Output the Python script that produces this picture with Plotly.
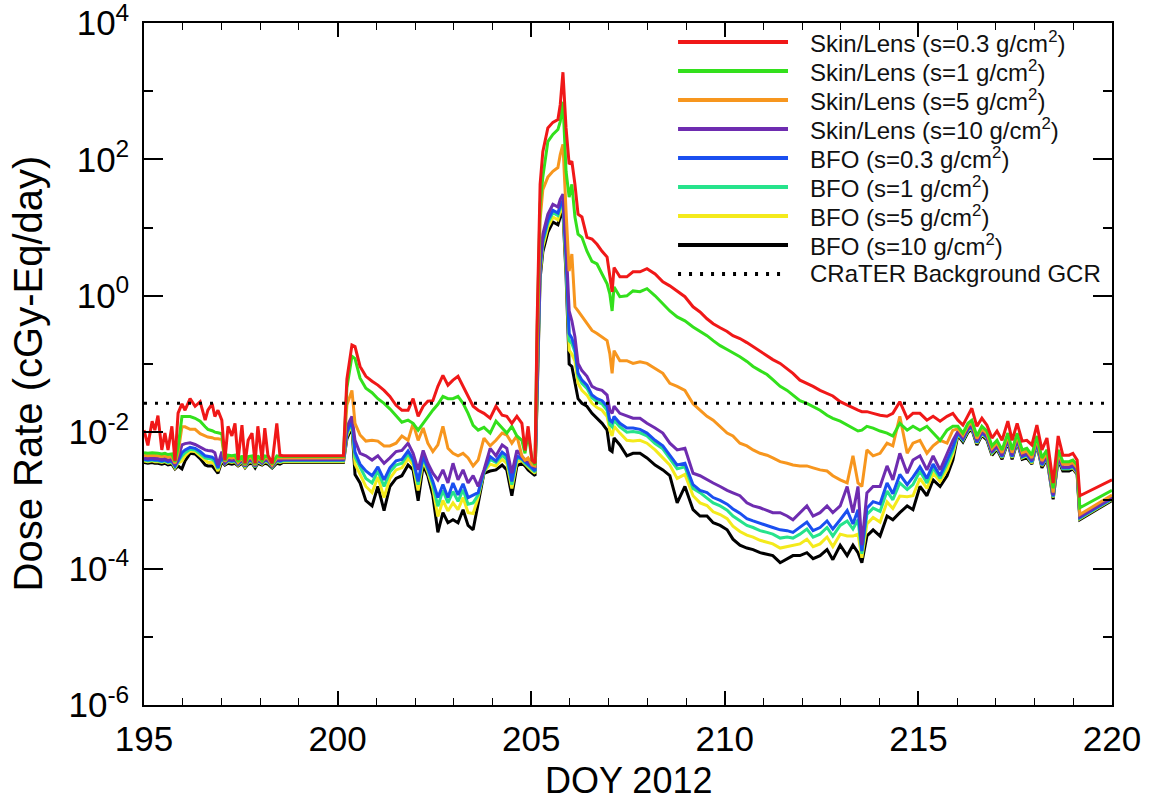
import plotly.graph_objects as go

# ---------------- data ----------------
doy = [
    195.00, 195.10, 195.21, 195.28, 195.36, 195.46, 195.54, 195.62, 195.72, 195.80,
    195.88, 195.98, 196.06, 196.19, 196.32, 196.45, 196.58, 196.65, 196.76, 196.83,
    196.91, 197.01, 197.09, 197.17, 197.27, 197.35, 197.43, 197.53, 197.61, 197.69,
    197.79, 197.87, 197.94, 198.05, 198.12, 198.20, 198.31, 198.43, 198.51, 198.59, 200.15,
    200.24, 200.37, 200.45, 200.58, 200.73, 200.89, 201.04, 201.20, 201.35, 201.51,
    201.66, 201.82, 201.95, 202.08, 202.21, 202.33, 202.46, 202.59, 202.72, 202.85,
    202.98, 203.11, 203.24, 203.37, 203.50, 203.63, 203.78, 203.94, 204.09, 204.25,
    204.37, 204.50, 204.63, 204.76, 204.84, 204.92, 205.02, 205.10,
    205.15, 205.23, 205.30, 205.43, 205.56, 205.69, 205.75, 205.82, 205.90, 205.98,
    206.05, 206.13, 206.21, 206.31, 206.44, 206.57, 206.70, 206.83, 206.96, 207.03,
    207.09, 207.14, 207.29, 207.47, 207.63, 207.81, 207.99, 208.20, 208.40, 208.58,
    208.77, 208.97, 209.18, 209.36,
    209.54, 209.70, 209.88, 210.06, 210.21, 210.39, 210.57, 210.73, 210.91, 211.09,
    211.24, 211.43, 211.61, 211.76, 211.94, 212.12, 212.28, 212.46, 212.64, 212.79,
    212.98, 213.16, 213.31, 213.44, 213.54, 213.67, 213.83, 214.01, 214.19, 214.34,
    214.52, 214.71, 214.86, 215.04, 215.22, 215.38, 215.56, 215.74, 215.89,
    216.02, 216.15, 216.28, 216.38, 216.51, 216.64, 216.77, 216.90, 217.03, 217.16,
    217.31, 217.42, 217.55, 217.68, 217.80, 217.93, 218.06, 218.19, 218.32, 218.48,
    218.61, 218.73, 218.89, 218.99, 219.10, 219.17, 220.00,
]

skin_03 = [
    .0107, .0064, .0145, .0107, .0175, .0055, .0097, .0055, .0122, .0038,
    .019, .026, .021, .031, .024, .028, .015, .021, .026, .017,
    .021, .015, .0039, .0122, .0088, .0135, .0039, .0127, .0035, .0076,
    .0097, .0035, .0122, .0039, .0115, .0046, .0035, .0135, .0046, .0045, .0045,
    .060, .19, .18, .092, .066, .056, .049, .041, .0335, .0248,
    .021, .021, .031, .0171, .024, .0284, .029, .047, .068, .049,
    .058, .066, .047, .0335, .024, .021, .0189, .016, .024, .0177,
    .0171, .0135, .0171, .0135, .0054, .0122, .0039, .0035,
    .35, 43, 130, 290, 350, 385, 635, 1900, 290, 85,
    94, 43, 15.7, 14.3, 7.2, 6.8, 5.7, 4.5, 3.7, 1.96,
    1.14, 2.6, 1.9, 1.9, 2.25, 2.25, 2.5, 2.09, 1.6, 1.4,
    1.18, .97, .69, .58,
    .46, .39, .34, .30, .26, .236, .206, .18, .157, .133,
    .116, .102, .086, .073, .058, .052, .047, .041, .037, .034,
    .028, .025, .0224, .021, .020, .020, .0189, .0177, .0171, .0189,
    .028, .016, .0189, .0189, .015, .0171, .0145, .0171, .0189,
    .015, .0127, .0171, .0224, .0122, .016, .0127, .0082, .0104, .0076,
    .0145, .0076, .0135, .0074, .0076, .0065, .0127, .0055, .0082, .0018,
    .0088, .0046, .0046, .0049, .0039, .00117, .0020,
]

skin_1 = [
    .0050, .0049, .0050, .0049, .0049, .0048, .0049, .0047, .0048, .0037,
    .0060, .017, .017, .017, .016, .0145, .012, .011, .0105, .0100,
    .0098, .0095, .0038, .0046, .0045, .0046, .0037, .0045, .0034, .0044,
    .0045, .0034, .0045, .0038, .0045, .0044, .0034, .0045, .0044, .0044, .0044,
    .045, .13, .12, .062, .044, .038, .031, .0265, .022, .0171,
    .014, .015, .0135, .0107, .0135, .0171, .021, .0256, .0335, .031,
    .031, .0335, .0265, .0189, .0126, .0107, .0118, .0097, .0145, .0115,
    .0097, .0122, .0088, .0076, .0049, .0097, .0039, .0033,
    .25, 22, 55, 183, 232, 274, 359, 700, 67, 28,
    43, 14.3, 8, 7.2, 4.5, 3.2, 2.93, 2.09, 1.5, 1.07,
    .6, 1.35, .97, 1.0, 1.18, 1.15, 1.27, 1.0, .76, .6,
    .49, .43, .35, .30,
    .26, .22, .186, .163, .147, .128, .109, .092, .080, .070,
    .059, .047, .041, .035, .029, .0265, .024, .021, .0177, .016,
    .0145, .0127, .0115, .0104, .0107, .0122, .0115, .0104, .0097, .0088,
    .0135, .0107, .0122, .0107, .0122, .0097, .0076, .0107, .0122,
    .0122, .0097, .0135, .015, .0088, .0122, .0104, .0063, .0076, .0055,
    .0097, .0055, .0097, .0055, .0058, .0046, .0088, .0042, .0055, .0015,
    .0055, .0037, .0037, .0039, .0033, .00078, .0014,
]

skin_5 = [
    .0046, .0045, .0046, .0045, .0045, .0044, .0045, .0043, .0044, .0035,
    .0050, .012, .012, .011, .011, .0095, .0088, .0085, .0083, .0080,
    .0080, .0078, .0037, .0043, .0042, .0043, .0036, .0042, .0033, .0042,
    .0042, .0033, .0042, .0037, .0042, .0042, .0033, .0042, .0042, .0042, .0042,
    .025, .041, .0135, .0091, .0074, .0076, .0074, .0063, .0063, .0069,
    .0088, .0076, .0135, .0076, .0115, .0069, .0052, .0065, .0122, .0058,
    .0049, .0045, .0049, .0042, .0032, .0039, .0082, .0063, .0076, .0097,
    .0091, .0069, .0088, .0045, .0039, .0042, .0033, .0032,
    .12, 13, 36, 55, 67, 76, 118, 166, 17.5, 2.3,
    4.1, .69, .6, .5, .39, .31, .28, .25, .22, .142,
    .073, .157, .112, .112, .102, .108, .102, .086, .073, .052,
    .047, .041, .026, .021,
    .0171, .015, .0122, .0097, .0088, .0069, .0063, .0055, .0049, .0046,
    .0042, .0037, .0035, .0033, .0032, .0032, .0030, .0028, .0027, .0023,
    .0020, .0018, .0045, .0018, .0016, .0055, .0045, .0049, .0069, .0063,
    .0171, .0049, .0069, .0076, .0049, .0063, .0076, .0069, .0107,
    .0112, .0090, .0125, .0138, .0081, .0112, .0096, .0058, .0070, .0050,
    .0089, .0050, .0089, .0050, .0053, .0042, .0081, .0038, .0050, .0013,
    .0050, .0034, .0034, .0036, .0030, .00062, .0012,
]

skin_10 = [
    .0042, .0041, .0042, .0041, .0041, .0040, .0041, .0039, .0040, .0033,
    .0042, .0065, .0068, .0070, .0066, .0060, .0055, .0054, .0053, .0050,
    .0033, .0052, .0036, .0040, .0039, .0040, .0035, .0040, .0032, .0039,
    .0040, .0032, .0040, .0036, .0040, .0039, .0032, .0040, .0039, .0040, .0040,
    .012, .017, .0076, .0049, .0045, .0039, .0045, .0035, .0042, .0052,
    .0054, .0069, .0049, .0028, .0054, .0035, .0025, .0020, .0028, .0018,
    .0035, .0020, .0028, .0018, .0023, .0016, .0028, .0058, .0045, .0065,
    .0058, .0025, .0054, .0045, .0039, .0037, .0033, .0030,
    .05, 3.2, 8, 15.7, 22, 20, 26, 31, 5.7, .6,
    .43, .25, .102, .08, .066, .047, .043, .041, .035, .021,
    .0189, .024, .0189, .0171, .016, .016, .0135, .0115, .0097, .0069,
    .0055, .0058, .0025, .0023,
    .0020, .0018, .0016, .0014, .00129, .00117, .00092, .00083, .00078, .00071,
    .00066, .00066, .00059, .00052, .00066, .00083, .00059, .00066, .00083, .00066,
    .00083, .0016, .00066, .0016, .00022, .00129, .0016, .0016, .0032, .0020,
    .0049, .0025, .0039, .0045, .0028, .0045, .0028, .0049, .0076,
    .0103, .0083, .0115, .0127, .0075, .0103, .0088, .0053, .0064, .0046,
    .0082, .0046, .0082, .0046, .0049, .0039, .0075, .0035, .0046, .0012,
    .0046, .0031, .0031, .0033, .0028, .00058, .0011,
]

bfo_03 = [
    .0040, .0039, .0040, .0039, .0039, .0038, .0039, .0037, .0038, .0032,
    .0038, .0050, .0055, .0060, .0058, .0052, .0045, .0044, .0043, .0040,
    .0030, .0045, .0035, .0039, .0038, .0039, .0034, .0039, .0032, .0038,
    .0039, .0032, .0039, .0035, .0039, .0038, .0032, .0039, .0038, .0039, .0039,
    .010, .015, .0051, .0034, .0027, .0023, .0031, .0020, .0030, .0038,
    .0040, .0053, .0040, .0019, .0045, .0030, .0019, .0011, .0017, .0011,
    .0018, .0012, .00175, .0011, .0012, .0013, .0027, .0044, .0038, .0051,
    .0045, .0019, .0045, .0041, .0037, .0034, .0030, .0027,
    .042, 2.6, 6.6, 12.9, 18, 16.4, 21, 25, 3.8, .28,
    .24, .17, .073, .058, .049, .035, .031, .029, .024, .015,
    .014, .017, .0135, .0115, .0115, .011, .0097, .0076, .0063, .0046,
    .0033, .0035, .0017, .0014,
    .0013, .0011, .0010, .00088, .00075, .00065, .00054, .0005, .00046, .00042,
    .0004, .00037, .00036, .00034, .0004, .00048, .00036, .0004, .0005, .00038,
    .00052, .00071, .00045, .00073, .00018, .00077, .00096, .00089, .0018, .00125,
    .0024, .0017, .0022, .0031, .0021, .0034, .0023, .0038, .0060,
    .0099, .0079, .0110, .0121, .0071, .0099, .0084, .0051, .0062, .0044,
    .0078, .0044, .0078, .0044, .0047, .0037, .0071, .0033, .0044, .00115,
    .0044, .0030, .0030, .0032, .0026, .00056, .00107,
]

bfo_1 = [
    .0039, .0038, .0039, .0038, .0038, .0037, .0038, .0036, .0037, .0031,
    .0037, .0045, .0050, .0056, .0055, .0048, .0042, .0041, .0040, .0037,
    .0029, .0043, .0035, .0038, .0037, .0038, .0034, .0038, .0031, .0037,
    .0038, .0031, .0038, .0035, .0038, .0037, .0031, .0038, .0037, .0038, .0038,
    .0095, .014, .0043, .0030, .0021, .0018, .0027, .0016, .0026, .0033,
    .0035, .0048, .0037, .0017, .0042, .0028, .0017, .00082, .0014, .00092,
    .00135, .00097, .00143, .00088, .00092, .0012, .0026, .0040, .0036, .0046,
    .0040, .0017, .0042, .0040, .0035, .0032, .0029, .0026,
    .038, 2.4, 6.0, 11.8, 16.5, 15, 19.5, 23, 3.2, .22,
    .20, .15, .066, .052, .044, .032, .028, .026, .021, .013,
    .012, .015, .012, .010, .0102, .0098, .0088, .0068, .0057, .0041,
    .0029, .0031, .0015, .0013,
    .0011, .00092, .00083, .00072, .00059, .00051, .00043, .0004, .00036, .00034,
    .00032, .00028, .00029, .00028, .00032, .00038, .00029, .00032, .0004, .0003,
    .00043, .0005, .00038, .00052, .000164, .00062, .00077, .00069, .00137, .00102,
    .0018, .00144, .0017, .0027, .0018, .0030, .0021, .0034, .0054,
    .0096, .0077, .0108, .0119, .0070, .0096, .0083, .0050, .0060, .0043,
    .0077, .0043, .0077, .0043, .0046, .0036, .0070, .0033, .0043, .00112,
    .0043, .0029, .0029, .0031, .0026, .00055, .00105,
]

bfo_5 = [
    .0038, .0037, .0038, .0037, .0037, .0036, .0037, .0035, .0036, .0030,
    .0035, .0038, .0045, .0053, .0052, .0045, .0038, .0036, .0036, .0033,
    .0027, .0040, .0034, .0037, .0036, .0037, .0033, .0037, .0031, .0036,
    .0037, .0031, .0037, .0034, .0037, .0036, .0031, .0037, .0036, .0037, .0037,
    .0088, .013, .0034, .0024, .0016, .0013, .0022, .0011, .0021, .0028,
    .0030, .0041, .0033, .0014, .0038, .0026, .0015, .00058, .0010, .0007,
    .00092, .00073, .0011, .00066, .00064, .0011, .0026, .0034, .0032, .0040,
    .0035, .0015, .0037, .0038, .0034, .0030, .0027, .0025,
    .033, 2.1, 5.2, 10.2, 14.3, 13, 17, 20, 2.6, .16,
    .14, .11, .052, .041, .035, .0265, .023, .021, .017, .0107,
    .0088, .0122, .0097, .0076, .0074, .0076, .0069, .0055, .0042, .0033,
    .0021, .0024, .00117, .00092,
    .00084, .00068, .00062, .00054, .00042, .00035, .00031, .00029, .00026, .00024,
    .00023, .0002, .00021, .00022, .00023, .00027, .00021, .00023, .00029, .00021,
    .00032, .0003, .0003, .00032, .000144, .00045, .00056, .00048, .00095, .00076,
    .00116, .00113, .00117, .0021, .0015, .0025, .0019, .0028, .0047,
    .0094, .0076, .0105, .0116, .0068, .0094, .0081, .0049, .0059, .0042,
    .0075, .0042, .0075, .0042, .0045, .0035, .0068, .0032, .0042, .0011,
    .0042, .0029, .0029, .0030, .0025, .00054, .00103,
]

bfo_10 = [
    .0036, .0035, .0036, .0035, .0035, .0034, .0035, .0033, .0034, .0029,
    .0032, .0029, .0038, .0049, .0048, .0041, .0033, .0032, .0032, .0029,
    .0025, .0037, .0033, .0035, .0034, .0035, .0032, .0035, .0030, .0034,
    .0035, .0030, .0035, .0033, .0035, .0034, .0030, .0035, .0034, .0036, .0036,
    .0080, .012, .0024, .0018, .00099, .00083, .0016, .00071, .0016, .0021,
    .0023, .0033, .0028, .00099, .0033, .0023, .00117, .00034, .00066, .00047,
    .00052, .00047, .00073, .00043, .00037, .00092, .0025, .0027, .0028, .0033,
    .0028, .00117, .0032, .0035, .0032, .0028, .0025, .0023,
    .028, 1.8, 4.4, 8.6, 12.1, 11, 14.3, 17, 2.0, .10,
    .092, .052, .031, .0265, .024, .0189, .016, .0135, .0107, .0055,
    .0052, .0082, .0065, .0045, .0049, .0049, .0042, .0033, .0028, .0023,
    .00092, .0016, .00073, .00059,
    .00059, .00047, .00043, .00037, .00027, .00022, .0002, .00019, .000171, .00016,
    .000155, .000122, .00014, .000155, .000155, .000171, .00014, .000155, .00019, .000135,
    .00022, .000155, .00022, .000171, .000122, .0003, .00037, .0003, .00059, .00052,
    .00066, .00083, .00073, .0016, .00117, .0020, .0016, .0023, .0039,
    .0090, .0072, .0100, .0110, .0065, .0090, .0077, .0046, .0056, .0040,
    .0071, .0040, .0071, .0040, .0042, .0034, .0065, .0030, .0040, .00104,
    .0040, .0027, .0027, .0029, .0024, .00052, .0010,
]

gcr_background = 0.0265
x_range = [195, 220]

labels = [
    "Skin/Lens (s=0.3 g/cm<sup>2</sup>)",
    "Skin/Lens (s=1 g/cm<sup>2</sup>)",
    "Skin/Lens (s=5 g/cm<sup>2</sup>)",
    "Skin/Lens (s=10 g/cm<sup>2</sup>)",
    "BFO (s=0.3 g/cm<sup>2</sup>)",
    "BFO (s=1 g/cm<sup>2</sup>)",
    "BFO (s=5 g/cm<sup>2</sup>)",
    "BFO (s=10 g/cm<sup>2</sup>)",
]
gcr_label = "CRaTER Background GCR"
series = [skin_03, skin_1, skin_5, skin_10, bfo_03, bfo_1, bfo_5, bfo_10]
colors = ["#f01818", "#33e01c", "#f7961e", "#6e2cb0",
          "#1a4ff0", "#26e38c", "#f4ea1c", "#000000"]

for s in series:
    assert len(s) == len(doy), (len(s), len(doy))

# ---------------- figure ----------------
FONT = "Liberation Sans, Arial, Helvetica, sans-serif"
fig = go.Figure()

# draw the last series first so that the Skin/Lens 0.3 curve is on top
for lab, vals, col in reversed(list(zip(labels, series, colors))):
    fig.add_trace(go.Scatter(
        x=doy, y=vals, mode="lines", name=lab,
        line=dict(color=col, width=3), showlegend=False,
    ))

fig.add_trace(go.Scatter(
    x=x_range, y=[gcr_background, gcr_background], mode="lines", name=gcr_label,
    line=dict(color="black", width=3, dash="3px,8px"), showlegend=False,
))

even_decades = [1e-6, 1e-4, 1e-2, 1e0, 1e2, 1e4]
even_text = ["10<sup>-6</sup>", "10<sup>-4</sup>", "10<sup>-2</sup>",
             "10<sup>0</sup>", "10<sup>2</sup>", "10<sup>4</sup>"]
odd_decades = [1e-5, 1e-3, 1e-1, 1e1, 1e3]

fig.update_layout(
    width=1149, height=804,
    margin=dict(l=144, r=37, t=23, b=99, autoexpand=False),
    paper_bgcolor="white", plot_bgcolor="white",
    font=dict(family=FONT, color="black"),
    showlegend=False,
)

fig.update_xaxes(
    range=x_range, showgrid=False, zeroline=False, automargin=False,
    showline=True, linecolor="black", linewidth=1.5, mirror="ticks",
    ticks="inside", ticklen=14, tickwidth=1.5, tickcolor="black",
    tick0=195, dtick=5, tickfont=dict(size=35, family=FONT),
    ticklabelstandoff=2,
    minor=dict(dtick=1, ticks="inside", ticklen=7, tickwidth=1.2, tickcolor="black",
               showgrid=False),
)
fig.update_yaxes(
    type="log", range=[-6.0005, 4.0005], showgrid=False, zeroline=False,
    automargin=False,
    showline=True, linecolor="black", linewidth=1.5, mirror="ticks",
    ticks="inside", ticklen=19, tickwidth=1.5, tickcolor="black",
    tickmode="array", tickvals=even_decades, ticktext=even_text,
    tickfont=dict(size=35, family=FONT), ticklabelstandoff=6,
    ticklabeloverflow="allow",
    minor=dict(tickmode="array", tickvals=odd_decades, ticks="inside",
               ticklen=9, tickwidth=1.5, tickcolor="black", showgrid=False),
)

# axis titles
fig.add_annotation(text="Dose Rate (cGy-Eq/day)", xref="paper", yref="paper",
                   x=-0.12, y=0.486, textangle=-90, showarrow=False,
                   xanchor="center", yanchor="middle",
                   font=dict(size=40, family=FONT, color="black"))
fig.add_annotation(text="DOY 2012", xref="paper", yref="paper",
                   x=0.5, y=-0.11, showarrow=False,
                   xanchor="center", yanchor="middle",
                   font=dict(size=36, family=FONT, color="black"))

# legend drawn inside the plot (long line samples like the original)
leg_x0, leg_x1, leg_tx = 0.5517, 0.6653, 0.686
leg_y0, leg_dy = 0.972, 0.0425
entries = list(zip(labels, colors)) + [(gcr_label, "black")]
for i, (lab, col) in enumerate(entries):
    yy = leg_y0 - i * leg_dy
    dash = "3px,8px" if lab == gcr_label else "solid"
    fig.add_shape(type="line", xref="paper", yref="paper",
                  x0=leg_x0, x1=leg_x1, y0=yy, y1=yy,
                  line=dict(color=col, width=4, dash=dash))
    fig.add_annotation(text=lab, xref="paper", yref="paper", x=leg_tx, y=yy,
                       xanchor="left", yanchor="middle", showarrow=False,
                       font=dict(size=24, family=FONT, color="#111111"))

fig.write_html("out.html", config={"displayModeBar": False},
               post_script="document.body.style.margin='0';")
